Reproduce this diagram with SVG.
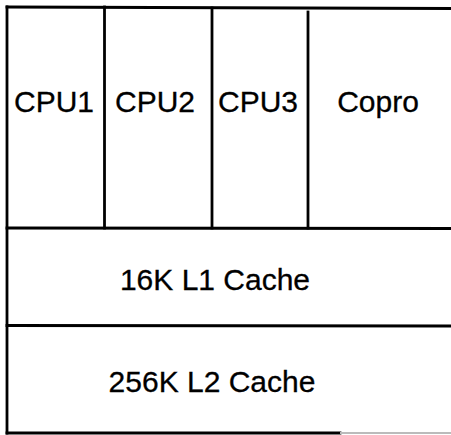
<svg xmlns="http://www.w3.org/2000/svg" width="451" height="435" viewBox="0 0 451 435">
<style>
.ln{stroke:#000;stroke-width:2.8;fill:none;stroke-linecap:square}
.t{font-family:"Liberation Sans",Arial,sans-serif;font-size:30px;fill:#000;stroke:#000;stroke-width:0.3;text-anchor:middle}
</style>
<rect width="451" height="435" fill="#fff"/>
<g id="lines">
<path class="ln" d="M7,7 L451,8.5"/>
<path class="ln" d="M7,7 L7,433"/>
<path class="ln" d="M7,433 L340,433"/>
<path d="M340,433 L451,433" stroke="#bbb" stroke-width="2"/>
<path class="ln" d="M7,228 L451,228.5"/>
<path class="ln" d="M7,325.5 L451,326"/>
<path class="ln" d="M104.5,7 L104.5,228"/>
<path class="ln" d="M212,8 L212,228"/>
<path class="ln" d="M308,12 L308,228"/>
</g>
<g id="cpu1"><text class="t" x="54" y="112">CPU1</text></g>
<g id="cpu2"><text class="t" x="155" y="112">CPU2</text></g>
<g id="cpu3"><text class="t" x="258" y="112">CPU3</text></g>
<g id="copro"><text class="t" x="378" y="112">Copro</text></g>
<g id="l1"><text class="t" x="215" y="290">16K L1 Cache</text></g>
<g id="l2"><text class="t" x="212" y="392">256K L2 Cache</text></g>
</svg>
